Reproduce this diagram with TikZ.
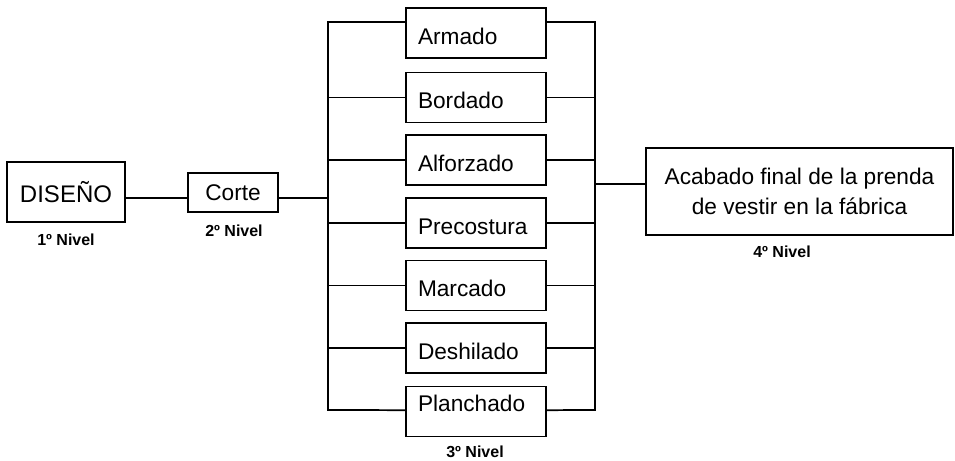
\documentclass[tikz,border=0pt]{standalone}
\usepackage{fontspec}
\setmainfont{Liberation Sans}
\usetikzlibrary{positioning}

\tikzset{
  caja/.style={draw, line width=1.3pt},
  etapa/.style={caja, minimum height=37.5pt, text width=87pt, inner xsep=9pt, inner ysep=1pt, text height=17pt, align=left, font=\fontsize{17}{20}\selectfont},
  nivel/.style={font=\bfseries\fontsize{12}{14}\selectfont},
  linea/.style={line width=1.3pt}
}

\begin{document}
\begin{tikzpicture}[x=0.75pt, y=-0.75pt]
      \useasboundingbox (0, 0) rectangle (955, 460);
      % niveles 1 y 2
      \node [caja, minimum width=88.5pt, minimum height=45pt, font=\fontsize{18}{22}\selectfont] (diseno) at (66, 192) {DISEÑO};
      \node [caja, minimum width=67.5pt, minimum height=29pt, font=\fontsize{17}{20}\selectfont] (corte) at (233, 192.5) {Corte};
      \node [nivel] (n1) at (66, 240) {1º Nivel};
      \node [nivel] (n2) at (234, 231) {2º Nivel};
      % nivel 3
      \node [etapa] (armado) at (476, 33) {Armado};
      \node [etapa] (bordado) at (476, 97.5) {Bordado};
      \node [etapa] (alforzado) at (476, 160) {Alforzado};
      \node [etapa] (precostura) at (476, 223) {Precostura};
      \node [etapa] (marcado) at (476, 285.5) {Marcado};
      \node [etapa] (deshilado) at (476, 348) {Deshilado};
      \node [etapa, text depth=17.6pt] (planchado) at (476, 411.5) {Planchado};
      \node [nivel] (n3) at (475, 452) {3º Nivel};
      % nivel 4
      \node [caja, minimum width=230pt, minimum height=65pt, align=center, font=\fontsize{17}{22.5}\selectfont] (acabado) at (799.5, 191.5) {Acabado final de la prenda\\de vestir en la fábrica};
      \node [nivel] (n4) at (782, 252) {4º Nivel};
      % barras verticales
      \coordinate (izqB) at (328, 410);
      \coordinate (derB) at (595, 410);
      \draw [linea] ([yshift=8.25pt]armado.west) -| (izqB) -- ([yshift=1pt]planchado.west);
      \draw [linea] ([yshift=8.25pt]armado.east) -| (derB) -- ([yshift=1pt]planchado.east);
      % uniones
      \draw [linea] ([yshift=-4.5pt]diseno.east) -- ([yshift=-4.1pt]corte.west);
      \draw [linea] ([yshift=-4.1pt]corte.east) -- ([yshift=-4.1pt]corte.east -| izqB);
      \draw [linea] ([yshift=5.6pt]acabado.west -| derB) -- ([yshift=5.6pt]acabado.west);
      \draw [linea] (bordado.west -| izqB) -- (bordado.west);
      \draw [linea] (bordado.east) -- (bordado.east -| derB);
      \draw [linea] (alforzado.west -| izqB) -- (alforzado.west);
      \draw [linea] (alforzado.east) -- (alforzado.east -| derB);
      \draw [linea] (precostura.west -| izqB) -- (precostura.west);
      \draw [linea] (precostura.east) -- (precostura.east -| derB);
      \draw [linea] (marcado.west -| izqB) -- (marcado.west);
      \draw [linea] (marcado.east) -- (marcado.east -| derB);
      \draw [linea] (deshilado.west -| izqB) -- (deshilado.west);
      \draw [linea] (deshilado.east) -- (deshilado.east -| derB);
    \end{tikzpicture}
\end{document}
